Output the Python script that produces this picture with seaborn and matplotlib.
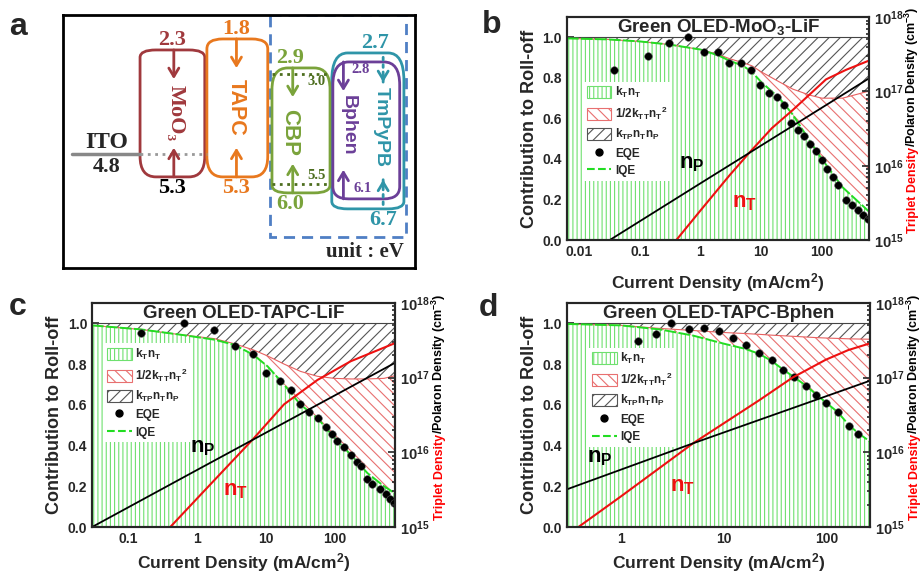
import numpy as np
import pandas as pd
import matplotlib
matplotlib.use("Agg")
import matplotlib.pyplot as plt
import seaborn as sns
from matplotlib.patches import FancyBboxPatch, Rectangle, Patch
from matplotlib.lines import Line2D
from matplotlib.ticker import FixedLocator, LogLocator, NullFormatter, FuncFormatter, MultipleLocator

sns.set_theme(style="ticks")
plt.rcParams["font.family"] = ["Liberation Sans", "DejaVu Sans"]
plt.rcParams["font.weight"] = "bold"
plt.rcParams["mathtext.fontset"] = "custom"
plt.rcParams["mathtext.rm"] = "Liberation Sans:bold"
plt.rcParams["mathtext.it"] = "Liberation Sans:bold"
plt.rcParams["mathtext.bf"] = "Liberation Sans:bold"
plt.rcParams["hatch.linewidth"] = 0.8
plt.rcParams["axes.linewidth"] = 1.5

# ---------------- panel a : energy levels (eV) ----------------
layers = ["MoO\u2083", "TAPC", "CBP", "Bphen", "TmPyPB"]
lumo = [2.3, 1.8, 2.9, 2.8, 2.7]
homo = [5.3, 5.3, 6.0, 6.1, 6.7]
cbp_host = [3.0, 5.5]
ito_wf = 4.8

# ---------------- panel b : MoO3-LiF ----------------
b_J = [0.0063, 0.03, 0.1, 0.3, 1, 2, 3, 5, 7, 10, 20, 33, 63, 100, 220, 600]
b_iqe = [0.995, 0.99, 0.98, 0.965, 0.94, 0.91, 0.885, 0.86, 0.83, 0.78, 0.70, 0.62, 0.49, 0.40, 0.26, 0.14]
b_tta = [0.995, 0.99, 0.98, 0.965, 0.94, 0.915, 0.895, 0.875, 0.86, 0.83, 0.78, 0.745, 0.715, 0.70, 0.70, 0.735]
b_J_eqe = [0.037, 0.135, 0.30, 0.62, 1.13, 1.93, 3.0, 4.6, 6.8, 9.6, 13.4, 18.1, 23.6, 31.2, 40.2,
           50.5, 64, 80.7, 100, 122, 151, 188, 252, 316, 392, 474, 573]
b_eqe = [0.837, 0.906, 0.972, 1.0, 0.929, 0.927, 0.873, 0.873, 0.837, 0.766, 0.725, 0.705, 0.666, 0.577,
         0.544, 0.514, 0.474, 0.437, 0.395, 0.351, 0.313, 0.270, 0.198, 0.173, 0.148, 0.124, 0.104]
b_J_nT = [0.4, 1, 3, 6.4, 15, 33, 63, 117, 250, 600]
b_nT = [1e15, 2.5e15, 7.4e15, 1.5e16, 3.2e16, 5.6e16, 9.1e16, 1.45e17, 1.95e17, 2.6e17]
b_J_nP = [0.032, 1, 600]
b_nP = [1e15, 5.8e15, 1.5e17]

# ---------------- panel c : TAPC-LiF ----------------
c_J = [0.03, 0.155, 0.585, 1.78, 3.48, 6.55, 10.6, 18.4, 32, 56, 98, 171, 298, 520, 750]
c_iqe = [0.99, 0.97, 0.944, 0.92, 0.895, 0.846, 0.789, 0.699, 0.60, 0.535, 0.44, 0.355, 0.265, 0.20, 0.165]
c_tta = [0.99, 0.97, 0.944, 0.925, 0.90, 0.87, 0.84, 0.80, 0.764, 0.74, 0.73, 0.727, 0.727, 0.73, 0.743]
c_J_eqe = [0.154, 0.64, 1.74, 3.59, 6.55, 10.2, 16.1, 23, 31.4, 42.5, 57, 74, 90.6, 109, 137, 171,
           209, 240, 298, 352, 450, 549, 630, 720]
c_eqe = [0.953, 1.0, 0.969, 0.89, 0.849, 0.756, 0.718, 0.673, 0.606, 0.566, 0.533, 0.49, 0.458, 0.42,
         0.393, 0.355, 0.32, 0.30, 0.235, 0.21, 0.185, 0.16, 0.14, 0.12]
c_J_nT = [0.41, 1, 6.55, 18.4, 56, 171, 750]
c_nT = [1e15, 2.4e15, 1.51e16, 4.4e16, 9.3e16, 1.66e17, 2.9e17]
c_J_nP = [0.03, 1, 750]
c_nP = [1e15, 5.8e15, 1.58e17]

# ---------------- panel d : TAPC-Bphen ----------------
d_J = [0.3, 1, 2.4, 5, 10, 16, 22, 29, 37, 48, 62, 78, 97, 126, 163, 201, 260]
d_iqe = [0.997, 0.99, 0.97, 0.94, 0.90, 0.875, 0.85, 0.815, 0.775, 0.735, 0.695, 0.652, 0.612, 0.565, 0.50, 0.46, 0.42]
d_tta = [0.997, 0.99, 0.975, 0.965, 0.955, 0.95, 0.946, 0.942, 0.939, 0.936, 0.933, 0.93, 0.928, 0.926, 0.924, 0.923, 0.922]
d_J_eqe = [1.45, 2.18, 3.09, 4.57, 6.38, 8.85, 12.2, 16.4, 22, 29.2, 37, 48, 62.2, 77.8, 97, 126, 163, 201]
d_eqe = [0.915, 0.95, 1.0, 0.972, 0.977, 0.96, 0.928, 0.892, 0.854, 0.818, 0.772, 0.736, 0.694, 0.65,
         0.609, 0.563, 0.494, 0.458]
d_J_nT = [0.387, 1, 5, 22, 46, 97, 160, 260]
d_nT = [1e15, 2.57e15, 1.32e16, 5.0e16, 1e17, 1.74e17, 2.34e17, 2.88e17]
d_J_nP = [0.3, 5, 260]
d_nP = [3.2e15, 1.32e16, 9.1e16]

GREEN_H = "#6fe06f"
GREEN_L = "#22dd22"
RED_H = "#e87070"
GREY_H = "#555555"
SERIF = ["Liberation Serif", "DejaVu Serif"]

fig = plt.figure(figsize=(9.21, 5.76), dpi=100)


def roll_off_panel(rect, J, iqe, tta, J_eqe, eqe, J_nT, nT, J_nP, nP, xlim, xticks, title,
                   leg_anchor, np_pos, nt_pos, xpad):
    ax = fig.add_axes(rect)
    ax.set_xscale("log")
    ax.fill_between(J, 0, iqe, facecolor="white", edgecolor=GREEN_H, hatch="||||", lw=0, zorder=1)
    ax.fill_between(J, iqe, tta, facecolor="white", edgecolor=RED_H, hatch="\\\\\\", lw=0, zorder=1)
    ax.fill_between(J, tta, 1.0, facecolor="white", edgecolor=GREY_H, hatch="///", lw=0, zorder=1)
    ax.plot(J, tta, color="#e86060", lw=0.8, zorder=2)
    ax.axhline(1.0, color="#444444", lw=0.8, zorder=2)
    ax.plot(J, iqe, color=GREEN_L, lw=1.4, ls="--", dashes=(6, 1.2), zorder=3)
    sns.scatterplot(x=J_eqe, y=eqe, ax=ax, color="black", s=30, edgecolor="#555555",
                    linewidth=0.4, zorder=4, legend=False)
    ax.set_xlim(*xlim)
    ax.set_ylim(0, 1.1)
    ax.xaxis.set_major_locator(FixedLocator(xticks))
    ax.xaxis.set_major_formatter(FuncFormatter(lambda v, p: f"{v:g}"))
    ax.xaxis.set_minor_locator(LogLocator(base=10, subs=np.arange(2, 10)))
    ax.xaxis.set_minor_formatter(NullFormatter())
    ax.yaxis.set_major_locator(MultipleLocator(0.2))
    ax.yaxis.set_minor_locator(MultipleLocator(0.1))
    ax.yaxis.set_major_formatter(FuncFormatter(lambda v, p: f"{v:.1f}"))
    ax.tick_params(which="both", direction="in", top=False, right=False, width=1.2, labelsize=10)
    ax.tick_params(which="major", length=5)
    ax.tick_params(which="minor", length=2.5)
    ax.set_xlabel("Current Density (mA/cm$^2$)", fontsize=12.5, fontweight="bold", labelpad=xpad)
    ax.set_ylabel("Contribution to Roll-off", fontsize=13, fontweight="bold", labelpad=3)
    ax.text(0.5, 0.955, title, transform=ax.transAxes, ha="center", va="center",
            fontsize=13.5, fontweight="bold", zorder=6)

    ax2 = ax.twinx()
    ax2.set_yscale("log")
    ax2.set_ylim(1e15, 1e18)
    sns.lineplot(x=J_nT, y=nT, ax=ax2, color="#ee1111", lw=1.5, estimator=None, sort=False)
    sns.lineplot(x=J_nP, y=nP, ax=ax2, color="black", lw=1.3, estimator=None, sort=False)
    ax2.set_xlim(*xlim)
    ax2.yaxis.set_major_locator(FixedLocator([1e15, 1e16, 1e17, 1e18]))
    ax2.yaxis.set_minor_locator(LogLocator(base=10, subs=np.arange(2, 10)))
    ax2.yaxis.set_minor_formatter(NullFormatter())
    ax2.tick_params(which="both", direction="in", width=1.2, labelsize=10.5)
    ax2.tick_params(which="major", length=5)
    ax2.tick_params(which="minor", length=2.5)
    ax2.set_ylabel("")
    ax2.text(np_pos[0], np_pos[1], "n$_P$", transform=ax2.transAxes, ha="center", va="center",
             fontsize=16, fontweight="bold", color="black")
    ax2.text(nt_pos[0], nt_pos[1], "n$_T$", transform=ax2.transAxes, ha="center", va="center",
             fontsize=16, fontweight="bold", color="#ee1111")

    handles = [
        Patch(facecolor="white", edgecolor=GREEN_H, hatch="||||", lw=0.8),
        Patch(facecolor="white", edgecolor=RED_H, hatch="\\\\\\", lw=0.8),
        Patch(facecolor="white", edgecolor=GREY_H, hatch="///", lw=0.8),
        Line2D([], [], marker="o", ls="none", color="black", ms=5),
        Line2D([], [], ls="--", color=GREEN_L, lw=1.5),
    ]
    labels = ["k$_T$n$_T$", "1/2k$_{TT}$n$_T$$^2$", "k$_{TP}$n$_T$n$_P$", "EQE", "IQE"]
    leg = ax2.legend(handles, labels, loc="upper left", bbox_to_anchor=leg_anchor, frameon=True,
                     facecolor="white", edgecolor="none", framealpha=1, fancybox=False,
                     prop={"size": 8.5, "weight": "bold"}, handlelength=2.1, handleheight=1.15,
                     labelspacing=0.4, borderpad=0.3, handletextpad=0.3, borderaxespad=0)
    leg.set_zorder(10)
    lab = ax2.text(1.157, 0.03, "Triplet Density", color="red", rotation=90, rotation_mode="anchor",
                   ha="left", va="baseline", transform=ax2.transAxes, fontsize=9, fontweight="bold")
    return ax, ax2, lab


panels = [
    roll_off_panel([0.6156, 0.5833, 0.328, 0.387], b_J, b_iqe, b_tta, b_J_eqe, b_eqe, b_J_nT, b_nT,
                   b_J_nP, b_nP, (0.0063, 600), [0.01, 0.1, 1, 10, 100], "Green OLED-MoO$_3$-LiF",
                   (0.053, 0.71), (0.414, 0.345), (0.589, 0.17), 9),
    roll_off_panel([0.0999, 0.085, 0.329, 0.389], c_J, c_iqe, c_tta, c_J_eqe, c_eqe, c_J_nT, c_nT,
                   c_J_nP, c_nP, (0.03, 750), [0.1, 1, 10, 100], "Green OLED-TAPC-LiF",
                   (0.037, 0.82), (0.366, 0.357), (0.472, 0.165), 4),
    roll_off_panel([0.6156, 0.085, 0.329, 0.389], d_J, d_iqe, d_tta, d_J_eqe, d_eqe, d_J_nT, d_nT,
                   d_J_nP, d_nP, (0.3, 260), [1, 10, 100], "Green OLED-TAPC-Bphen",
                   (0.07, 0.80), (0.109, 0.3125), (0.38, 0.18), 4),
]

# ---------------- panel a drawing ----------------
# schematic (not to scale) energy axis, as in the original diagram
scale_E = [0.0, 1.0, 1.8, 2.3, 2.7, 2.8, 2.9, 3.0, 4.8, 5.3, 5.5, 6.0, 6.1, 6.7, 8.67, 10.0]
scale_px = [-15, 15, 39, 50, 53, 62, 68, 74, 154, 177, 184, 193, 199, 209, 268, 308]

axa = fig.add_axes([0.0684, 0.535, 0.382, 0.439])
axa.set_yscale("function", functions=(lambda e: np.interp(e, scale_E, scale_px),
                                      lambda p: np.interp(p, scale_px, scale_E)))
axa.set_xlim(0, 10)
axa.set_ylim(8.67, 1.0)
axa.set_xticks([])
axa.set_yticks([])
axa.yaxis.set_minor_locator(FixedLocator([]))
for s in axa.spines.values():
    s.set_linewidth(2)
    s.set_color("black")

yfrac = axa.get_xaxis_transform()
colors = ["#a0393d", "#e8781e", "#7aa33b", "#6b3f98", "#2f95a8"]
box_x = [(2.19, 4.03), (4.09, 5.82), (5.94, 7.59), (7.67, 9.57), (7.64, 9.69)]
arrow_x = [3.15, 4.93, 6.53, 7.97, 9.1]
name_pos = [(3.2, 0.613), (4.93, 0.636), (6.45, 0.534), (8.1, 0.565), (9.06, 0.557)]
name_font = [SERIF, ["Liberation Sans"], ["Liberation Sans"], ["Liberation Sans"], ["Liberation Sans"]]
name_size = [16, 15.5, 16, 14, 14]

# blue dashed box
axa.add_patch(Rectangle((5.88, 1.0), 9.74 - 5.88, 7.63 - 1.0, fill=False, ec="#4f7fc4", lw=2,
                        ls=(0, (4, 2.5)), zorder=1))

for i in [4, 0, 1, 2, 3]:
    x0, x1 = box_x[i]
    axa.add_patch(FancyBboxPatch((x0, lumo[i]), x1 - x0, homo[i] - lumo[i],
                                 boxstyle="round,pad=0,rounding_size=0.45", fill=False,
                                 ec=colors[i], lw=2, zorder=2))
    head = dict(arrowstyle="<-,head_width=0.3,head_length=0.5", color=colors[i], lw=2,
                shrinkA=0, shrinkB=0)
    if i == 4:
        # dotted shaft with a solid head
        shaft = dict(arrowstyle="-", color=colors[i], lw=2, ls=":", shrinkA=0, shrinkB=0)
        axa.annotate("", xy=(arrow_x[i], lumo[i]), xytext=(0, -21), textcoords="offset points", arrowprops=shaft)
        axa.annotate("", xy=(arrow_x[i], homo[i]), xytext=(0, 21), textcoords="offset points", arrowprops=shaft)
        head["shrinkB"] = 16
    axa.annotate("", xy=(arrow_x[i], lumo[i]), xytext=(0, -21), textcoords="offset points", arrowprops=head)
    axa.annotate("", xy=(arrow_x[i], homo[i]), xytext=(0, 21), textcoords="offset points", arrowprops=head)
    axa.text(name_pos[i][0], name_pos[i][1], layers[i], rotation=270, ha="center", va="center",
             color=colors[i], fontsize=name_size[i], fontweight="bold", family=name_font[i],
             transform=yfrac)

# ITO contact
axa.plot([0.26, 2.19], [ito_wf, ito_wf], color="#888888", lw=2.5)
axa.plot([2.19, 4.09], [ito_wf, ito_wf], color="#999999", lw=2, ls=":")
axa.annotate("ITO", (1.25, ito_wf), xytext=(0, 1), textcoords="offset points", ha="center",
             va="bottom", fontsize=17, fontweight="bold", family=SERIF)
axa.annotate(f"{ito_wf}", (1.25, ito_wf), xytext=(0, -2), textcoords="offset points", ha="center",
             va="top", fontsize=16, fontweight="bold", family=SERIF)

# CBP host levels
for e in cbp_host:
    axa.plot([5.94, 7.59], [e, e], color="#4d6e1f", lw=2, ls=":", zorder=2)

num_pos = [(3.1, "#a0393d", "black"), (4.93, "#e8781e", "#e8781e"), (6.45, "#7aa33b", "#7aa33b")]
for i, (xc, ctop, cbot) in enumerate(num_pos):
    axa.annotate(f"{lumo[i]}", (xc, lumo[i]), xytext=(0, 0), textcoords="offset points",
                 ha="center", va="bottom", fontsize=16, fontweight="bold", color=ctop, family=SERIF)
    axa.annotate(f"{homo[i]}", (xc, homo[i]), xytext=(0, -1), textcoords="offset points",
                 ha="center", va="top", fontsize=16, fontweight="bold", color=cbot, family=SERIF)

axa.annotate(f"{cbp_host[0]}", (7.2, cbp_host[0]), xytext=(0, -1), textcoords="offset points",
             ha="center", va="top", fontsize=10.5, fontweight="bold", color="#4d6e1f", family=SERIF)
axa.annotate(f"{cbp_host[1]}", (7.2, cbp_host[1]), xytext=(0, 1), textcoords="offset points",
             ha="center", va="bottom", fontsize=10.5, fontweight="bold", color="#4d6e1f", family=SERIF)
axa.annotate(f"{lumo[3]}", (8.45, lumo[3]), xytext=(0, -1), textcoords="offset points",
             ha="center", va="top", fontsize=10.5, fontweight="bold", color=colors[3], family=SERIF)
axa.annotate(f"{homo[3]}", (8.52, homo[3]), xytext=(0, 3), textcoords="offset points",
             ha="center", va="bottom", fontsize=10.5, fontweight="bold", color=colors[3], family=SERIF)
axa.annotate(f"{lumo[4]}", (8.86, lumo[4]), xytext=(0, 0), textcoords="offset points",
             ha="center", va="bottom", fontsize=16, fontweight="bold", color=colors[4], family=SERIF)
axa.annotate(f"{homo[4]}", (9.1, homo[4]), xytext=(0, -1), textcoords="offset points",
             ha="center", va="top", fontsize=16, fontweight="bold", color=colors[4], family=SERIF)
axa.text(8.58, 0.063, "unit : eV", ha="center", va="center", fontsize=15, fontweight="bold",
         family=SERIF, transform=yfrac)

# panel letters
for letter, (px, py) in zip("abcd", [(18, 27), (492, 25), (18, 307), (488, 308)]):
    fig.text(px / 921, 1 - py / 576, letter, ha="center", va="center", fontsize=23, fontweight="bold")

# second half of the two-colour right axis label
fig.canvas.draw()
for ax, ax2, lab in panels:
    bb = lab.get_window_extent()
    ytop = ax2.transAxes.inverted().transform((bb.x0, bb.y1))[1]
    ax2.text(1.157, ytop, "/Polaron Density (cm$^{-3}$)", color="black", rotation=90,
             rotation_mode="anchor", ha="left", va="baseline", transform=ax2.transAxes,
             fontsize=9, fontweight="bold")

fig.savefig("out.png", dpi=100)
